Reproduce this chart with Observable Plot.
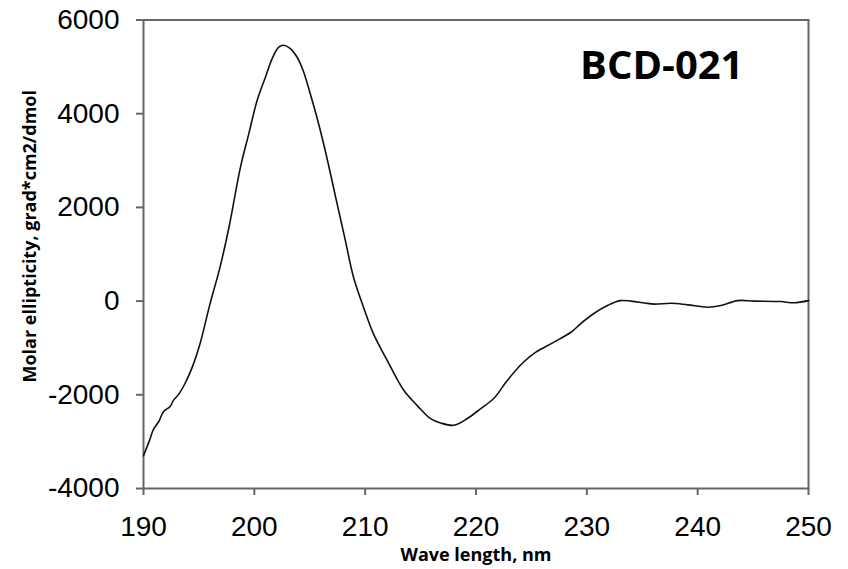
<!DOCTYPE html>
<html>
<head>
<meta charset="utf-8">
<script src="https://cdn.jsdelivr.net/npm/d3@7"></script>
<script src="https://cdn.jsdelivr.net/npm/@observablehq/plot@0.6"></script>
<style>
  html, body { margin: 0; padding: 0; background: #fff; }
  #chart { width: 848px; height: 569px; overflow: hidden; }
</style>
</head>
<body>
<div id="chart"></div>
<script>
// Wavelength (nm)
const wavelength = [
  190.0, 190.5, 190.9, 191.4, 191.8, 192.4, 192.7, 193.2, 193.7, 194.4,
  195.1, 196.0, 196.9, 197.7, 198.75, 199.5, 200.25, 201.0, 201.6, 202.2,
  202.65, 203.25, 203.85, 204.45, 205.05, 205.65, 206.4, 207.4, 208.15, 208.95,
  209.85, 210.75, 212.0, 213.5, 214.7, 215.9, 216.8, 218.0, 219.2, 220.4,
  221.6, 222.8, 224.3, 225.4, 227.0, 228.6, 229.4, 230.6, 231.9, 233.0,
  234.0, 235.2, 236.1, 237.6, 239.1, 240.9, 242.1, 243.6, 245.1, 247.5,
  248.7, 250.0
];
// Molar ellipticity (grad*cm2/dmol)
const ellipticity = [
  -3300, -3000, -2740, -2560, -2360, -2250, -2120, -1980, -1780, -1410,
  -910, -60, 720, 1560, 2860, 3570, 4280, 4780, 5170, 5420,
  5460, 5390, 5210, 4890, 4420, 3920, 3210, 2150, 1360, 510,
  -130, -700, -1270, -1910, -2230, -2510, -2600, -2650, -2510, -2300,
  -2080, -1700, -1300, -1090, -880, -660, -490, -270, -90, 10,
  0, -40, -65, -45, -80, -130, -95, 10, 0, -10,
  -35, 10
];
const xTicks = [190, 200, 210, 220, 230, 240, 250];
const yTicks = [-4000, -2000, 0, 2000, 4000, 6000];
const xLabel = "Wave length, nm";
const yLabel = "Molar ellipticity, grad*cm2/dmol";
const sampleName = "BCD-021";

const data = wavelength.map((w, i) => ({w, v: ellipticity[i]}));

const chart = Plot.plot({
  width: 848,
  height: 569,
  marginLeft: 143,
  marginRight: 40,
  marginTop: 19.5,
  marginBottom: 81,
  style: {fontFamily: "'Liberation Sans', Arial, sans-serif", background: "#fff", color: "#000"},
  x: {domain: [190, 250]},
  y: {domain: [-4000, 6000]},
  marks: [
    Plot.axisX({ticks: xTicks, tickSize: 7, tickPadding: 21, fontSize: 28, stroke: "#666", strokeWidth: 2, fill: "#000", tickFormat: d => String(d), label: null}),
    Plot.axisY({ticks: yTicks, tickSize: 7, tickPadding: 17, fontSize: 28, stroke: "#666", strokeWidth: 2, fill: "#000", tickFormat: d => String(d), label: null}),
    Plot.frame({stroke: "#666", strokeWidth: 2}),
    Plot.line(data, {x: "w", y: "v", stroke: "#111", strokeWidth: 1.6, curve: "catmull-rom"}),
    Plot.text([sampleName], {frameAnchor: "top-right", textAnchor: "end", lineAnchor: "middle", dx: -65, dy: 46, fontSize: 40, fontWeight: 700, fontFamily: "'Open Sans', sans-serif", fill: "#000"}),
    Plot.text([xLabel], {frameAnchor: "bottom", textAnchor: "middle", lineAnchor: "middle", dy: 67, fontSize: 18, fontWeight: 700, fontFamily: "'Open Sans', sans-serif", fill: "#000"}),
    Plot.text([yLabel], {frameAnchor: "left", textAnchor: "middle", rotate: -90, lineAnchor: "middle", dx: -113, dy: -18, fontSize: 18, fontWeight: 700, fontFamily: "'Open Sans', sans-serif", fill: "#000"})
  ]
});
document.getElementById("chart").appendChild(chart);
</script>
</body>
</html>
